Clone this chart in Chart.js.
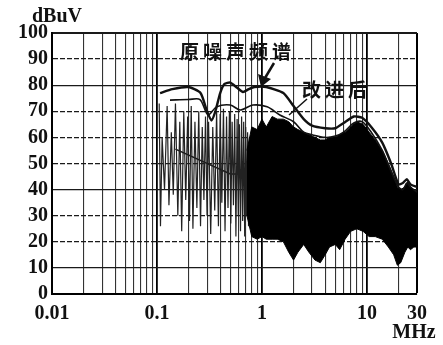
<!DOCTYPE html>
<html>
<head>
<meta charset="utf-8">
<script src="https://cdn.jsdelivr.net/npm/chart.js@4.4.1/dist/chart.umd.min.js"></script>
<style>
html, body { margin: 0; padding: 0; background: #fff; }
#wrap { width: 443px; height: 345px; position: relative; }
</style>
</head>
<body>
<div id="wrap"><canvas id="emiChart"></canvas></div>
<script>
// original noise spectrum, upper envelope (MHz / dBuV)
const origFreq  = [0.107, 0.14, 0.2, 0.26, 0.3, 0.33, 0.36, 0.4, 0.44, 0.5, 0.58, 0.66, 0.75, 0.85, 1.1, 1.6, 2.0, 2.5, 3.0, 4.0, 5.0, 6.0, 7.5, 9.0, 11, 14, 17, 20, 22, 24, 26, 30];
const origLevel = [77, 78.5, 79.3, 77, 70, 66.5, 70, 77, 80.5, 81, 79, 77.4, 78.5, 79.3, 79.3, 77, 72, 67, 64.5, 63.5, 63.5, 65.5, 68, 67.5, 64, 58, 50, 42, 42.5, 44, 42, 41];

// improved spectrum, upper envelope
const impFreq  = [0.133, 0.2, 0.257, 0.306, 0.37, 0.5, 0.62, 0.82, 1.12, 1.48, 2.0, 2.5, 3.0, 4.0, 5.0, 6.0, 7.5, 9.0, 11, 14, 17, 20, 22, 24, 26, 30];
const impLevel = [74.3, 74.5, 74.5, 68.6, 71.7, 72.4, 70.5, 72.4, 71.7, 68.6, 66, 62, 61, 60, 60.5, 62, 65.5, 66, 62, 55, 47, 41, 40, 42.5, 41, 39];

// dense noise band (top / bottom)
const bandFreq   = [0.72, 0.8, 0.9, 1.0, 1.1, 1.25, 1.4, 1.6, 1.8, 2.0, 2.2, 2.5, 2.8, 3.2, 3.6, 4.0, 4.4, 5.0, 5.5, 6.2, 7.0, 8.0, 9.2, 10.5, 12, 14, 16, 18, 19.5, 21, 23, 24.5, 26, 28, 30];
const bandTop    = [55, 64, 63, 67, 64, 68, 67, 67, 66, 64, 63, 62, 61, 60, 59, 59, 60, 60, 61, 62, 64, 66, 65, 62, 59, 55, 50, 45, 41, 40, 41, 43, 41, 40, 39];
const bandBottom = [30, 22, 21, 22, 21, 21, 21, 20, 16, 13, 16, 19, 16, 13, 12, 15, 18, 19, 17, 21, 24, 25, 24, 22, 22, 21, 18, 15, 11, 12, 16, 18, 17, 18, 18];

// harmonic spikes below 0.8 MHz
const spikeFreq  = [0.105, 0.108, 0.112, 0.118, 0.125, 0.13, 0.137, 0.143, 0.15, 0.158, 0.165, 0.172, 0.18, 0.188, 0.196, 0.204, 0.212, 0.22, 0.23, 0.24, 0.25, 0.26, 0.27, 0.28, 0.29, 0.3, 0.31, 0.325, 0.34, 0.355, 0.37, 0.385, 0.4, 0.415, 0.43, 0.445, 0.46, 0.475, 0.49, 0.505, 0.52, 0.535, 0.55, 0.565, 0.58, 0.595, 0.61, 0.625, 0.64, 0.655, 0.67, 0.685, 0.7, 0.715, 0.73, 0.745, 0.76];
const spikeLevel = [73, 26, 60, 40, 72, 34, 62, 38, 73, 30, 66, 24, 70, 36, 68, 28, 72, 25, 66, 33, 70, 26, 64, 36, 68, 30, 66, 23, 64, 32, 70, 26, 69, 35, 71, 24, 68, 33, 70, 27, 66, 34, 69, 22, 67, 30, 65, 24, 68, 28, 66, 22, 64, 30, 62, 26, 60];

// limit line
const limitFreq  = [0.15, 0.5, 1.0];
const limitLevel = [55.5, 46, 46];

const yTicks = [0, 10, 20, 30, 40, 50, 60, 70, 80, 90, 100];
const xLabelValues = [0.01, 0.1, 1, 10, 30];
const xLabelText = ['0.01', '0.1', '1', '10', '30'];
const solidY = [0, 10, 40, 80, 100];

const gridFreqs = [];
[0.01, 0.1, 1, 10].forEach(function(d) {
    for (let m = 1; m <= 9; m++) {
        const v = Number((d * m).toPrecision(3));
        if (v <= 30) gridFreqs.push(v);
    }
});

function pts(xs, ys) {
    return xs.map(function(x, i) { return { x: x, y: ys[i] }; });
}

const tickFont = { family: '"Liberation Serif"', size: 20, weight: 'bold' };

const notes = {
    id: 'notes',
    afterDraw: function(chart) {
        const c = chart.ctx;
        c.save();
        c.fillStyle = '#111';
        c.strokeStyle = '#111';
        c.textBaseline = 'middle';
        c.textAlign = 'center';
        c.font = 'bold 20px "Liberation Serif"';
        c.fillText('dBuV', 57, 17);
        c.fillText('MHz', 414, 333);

        c.font = 'bold 19px "Noto Sans CJK SC"';
        c.textAlign = 'left';
        c.letterSpacing = '4px';
        c.fillText('原噪声频谱', 180, 52);
        c.fillText('改进后', 302, 90);

        // arrow to original curve
        c.lineWidth = 2.5;
        c.beginPath();
        c.moveTo(274, 63);
        c.lineTo(265, 78);
        c.stroke();
        c.beginPath();
        c.moveTo(261, 87);
        c.lineTo(258, 74);
        c.lineTo(271, 79);
        c.closePath();
        c.fill();

        // pointer to improved curve
        c.lineWidth = 1.5;
        c.beginPath();
        c.moveTo(307, 99);
        c.lineTo(289, 115);
        c.stroke();
        c.restore();
    }
};

const ctx = document.getElementById('emiChart');

new Chart(ctx, {
    type: 'line',
    data: {
        datasets: [
            {
                label: '原噪声频谱',
                data: pts(origFreq, origLevel),
                borderColor: '#111',
                borderWidth: 2.4,
                tension: 0.2,
                pointRadius: 0,
                order: 0
            },
            {
                label: '改进后',
                data: pts(impFreq, impLevel),
                borderColor: '#111',
                borderWidth: 1.6,
                tension: 0.3,
                pointRadius: 0,
                order: 1
            },
            {
                label: 'band top',
                data: pts(bandFreq, bandTop),
                borderColor: '#000',
                borderWidth: 1,
                backgroundColor: '#000',
                fill: '+1',
                pointRadius: 0,
                order: 2
            },
            {
                label: 'band bottom',
                data: pts(bandFreq, bandBottom),
                borderColor: '#000',
                borderWidth: 1,
                pointRadius: 0,
                fill: false,
                order: 3
            },
            {
                label: 'spikes',
                data: pts(spikeFreq, spikeLevel),
                borderColor: '#222',
                borderWidth: 1.2,
                pointRadius: 0,
                fill: false,
                order: 4
            },
            {
                label: 'limit',
                data: pts(limitFreq, limitLevel),
                borderColor: '#111',
                borderWidth: 1.6,
                pointRadius: 0,
                fill: false,
                order: 5
            }
        ]
    },
    options: {
        responsive: true,
        maintainAspectRatio: false,
        animation: false,
        layout: { padding: { left: 0, top: 33, right: 26, bottom: 0 } },
        plugins: {
            legend: { display: false },
            tooltip: { enabled: false }
        },
        scales: {
            x: {
                type: 'logarithmic',
                min: 0.01,
                max: 30,
                afterBuildTicks: function(axis) {
                    axis.ticks = gridFreqs.map(function(v) { return { value: v }; });
                },
                afterFit: function(axis) { axis.height = 51; },
                ticks: {
                    autoSkip: false,
                    maxRotation: 0,
                    padding: 8,
                    color: '#111',
                    font: tickFont,
                    callback: function(value) {
                        const i = xLabelValues.indexOf(value);
                        return i >= 0 ? xLabelText[i] : '';
                    }
                },
                grid: {
                    drawTicks: false,
                    color: function(c) {
                        const v = c.tick ? c.tick.value : 0;
                        return [0.01, 0.1, 1, 10, 30].indexOf(v) >= 0 ? '#000' : '#333';
                    },
                    lineWidth: function(c) {
                        const v = c.tick ? c.tick.value : 0;
                        if (v === 30) return 2;
                        return [0.1, 1, 10].indexOf(v) >= 0 ? 1.8 : 1.1;
                    }
                },
                border: { display: true, color: '#000', width: 2 }
            },
            y: {
                min: 0,
                max: 100,
                afterBuildTicks: function(axis) {
                    axis.ticks = yTicks.map(function(v) { return { value: v }; });
                },
                afterFit: function(axis) { axis.width = 52; },
                ticks: {
                    autoSkip: false,
                    padding: 4,
                    color: '#111',
                    font: tickFont
                },
                grid: {
                    drawTicks: false,
                    color: '#1a1a1a',
                    lineWidth: function(c) {
                        return c.tick && c.tick.value === 100 ? 2 : 1.3;
                    }
                },
                border: {
                    display: true,
                    color: '#000',
                    width: 2,
                    dash: function(c) {
                        if (!c.tick) return [];
                        return solidY.indexOf(c.tick.value) >= 0 ? [] : [5, 2];
                    }
                }
            }
        }
    },
    plugins: [notes]
});
</script>
</body>
</html>
